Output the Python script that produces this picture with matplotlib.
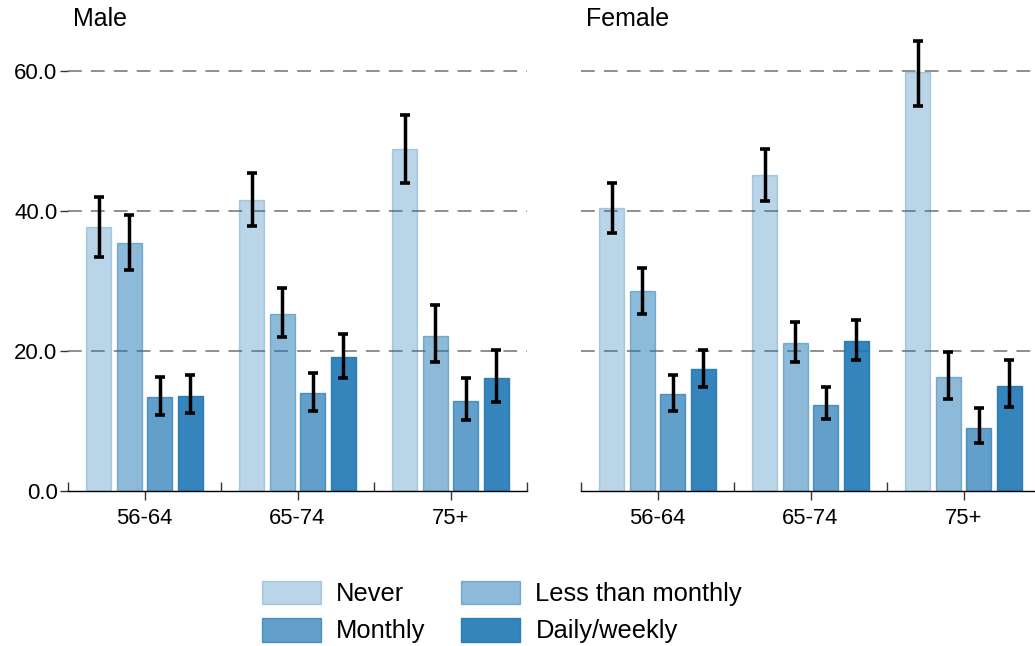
import matplotlib
matplotlib.use("Agg")
import matplotlib.pyplot as plt
import matplotlib.patches as mpatches
from matplotlib.ticker import FixedLocator, FormatStrFormatter
import numpy as np

plt.rcParams['font.family'] = ['Liberation Sans', 'DejaVu Sans']

# data
age_groups = ["56-64", "65-74", "75+"]
freq_labels = ["Never", "Less than monthly", "Monthly", "Daily/weekly"]
panels = ["Male", "Female"]

male_vals = [[37.7, 41.6, 48.8],
             [35.5, 25.3, 22.2],
             [13.4, 14.0, 12.9],
             [13.6, 19.2, 16.2]]
male_lo = [[33.4, 37.9, 44.0],
           [31.6, 22.0, 18.5],
           [10.8, 11.4, 10.1],
           [11.1, 16.2, 12.7]]
male_hi = [[42.0, 45.5, 53.7],
           [39.5, 29.0, 26.6],
           [16.3, 16.9, 16.2],
           [16.6, 22.5, 20.1]]

female_vals = [[40.4, 45.1, 59.9],
               [28.6, 21.2, 16.3],
               [13.8, 12.3, 9.0],
               [17.4, 21.5, 15.0]]
female_lo = [[36.8, 41.4, 55.0],
             [25.3, 18.4, 13.2],
             [11.4, 10.3, 6.8],
             [14.8, 18.7, 12.0]]
female_hi = [[44.0, 48.8, 64.3],
             [31.8, 24.2, 19.9],
             [16.6, 14.8, 11.8],
             [20.2, 24.5, 18.7]]

base = '#1f77b4'
alphas = [0.3, 0.5, 0.7, 0.9]

fig = plt.figure(figsize=(10.35, 6.46), dpi=100)
ax1 = fig.add_axes([68 / 1035, 155 / 646, 459 / 1035, 455 / 646])
ax2 = fig.add_axes([581 / 1035, 155 / 646, 459 / 1035, 455 / 646])

x = np.arange(len(age_groups))
step = 0.2
width = 0.165

data = [(male_vals, male_lo, male_hi), (female_vals, female_lo, female_hi)]
for ax, name, (vals, lo, hi) in zip([ax1, ax2], panels, data):
    for i in range(len(freq_labels)):
        pos = x + (i - 1.5) * step
        v = np.array(vals[i])
        yerr = [v - np.array(lo[i]), np.array(hi[i]) - v]
        ax.bar(pos, v, width, color=base, alpha=alphas[i], edgecolor=base,
               linewidth=1, zorder=2)
        ax.errorbar(pos, v, yerr=yerr, fmt='none', ecolor='black',
                    elinewidth=2.5, capsize=3.8, capthick=2.6, zorder=3)

    ax.set_xlim(-0.5, 2.5)
    ax.set_ylim(0, 65)
    for s in ['top', 'right', 'left']:
        ax.spines[s].set_visible(False)
    ax.spines['bottom'].set_linewidth(1)

    ax.set_xticks(x)
    ax.set_xticklabels(age_groups, fontsize=15.8)
    ax.xaxis.set_minor_locator(FixedLocator([-0.5, 0.5, 1.5, 2.5]))
    ax.tick_params(axis='x', which='major', direction='out', length=6.5,
                   width=1, color='#333333', pad=6)
    ax.tick_params(axis='x', which='minor', direction='in', length=6.5,
                   width=1, color='#333333')

    ax.set_yticks([0, 20, 40, 60])
    ax.yaxis.set_major_formatter(FormatStrFormatter('%.1f'))
    ax.tick_params(axis='y', direction='out', length=6, width=1,
                   color='#333333', labelsize=16, pad=1.5)
    for yv in [20, 40, 60]:
        ax.axhline(yv, color='#707070', linewidth=1.1,
                   linestyle=(0, (9, 6)), zorder=1)

    ax.text(0.01, 1.01, name, transform=ax.transAxes, fontsize=18,
            ha='left', va='bottom')

ax2.tick_params(axis='y', left=False, labelleft=False)

order = [0, 2, 1, 3]
handles = [mpatches.Patch(facecolor=base, alpha=alphas[i], edgecolor=base,
                          linewidth=1) for i in order]
labels = [freq_labels[i] for i in order]
fig.legend(handles, labels, loc='center', bbox_to_anchor=(502 / 1035, 1 - 612 / 646),
           ncol=2, frameon=False, fontsize=18.4, handlelength=2.3,
           handleheight=1.06, handletextpad=0.6, columnspacing=1.4,
           labelspacing=0.45, borderpad=0)

fig.savefig('out.png', dpi=100)
